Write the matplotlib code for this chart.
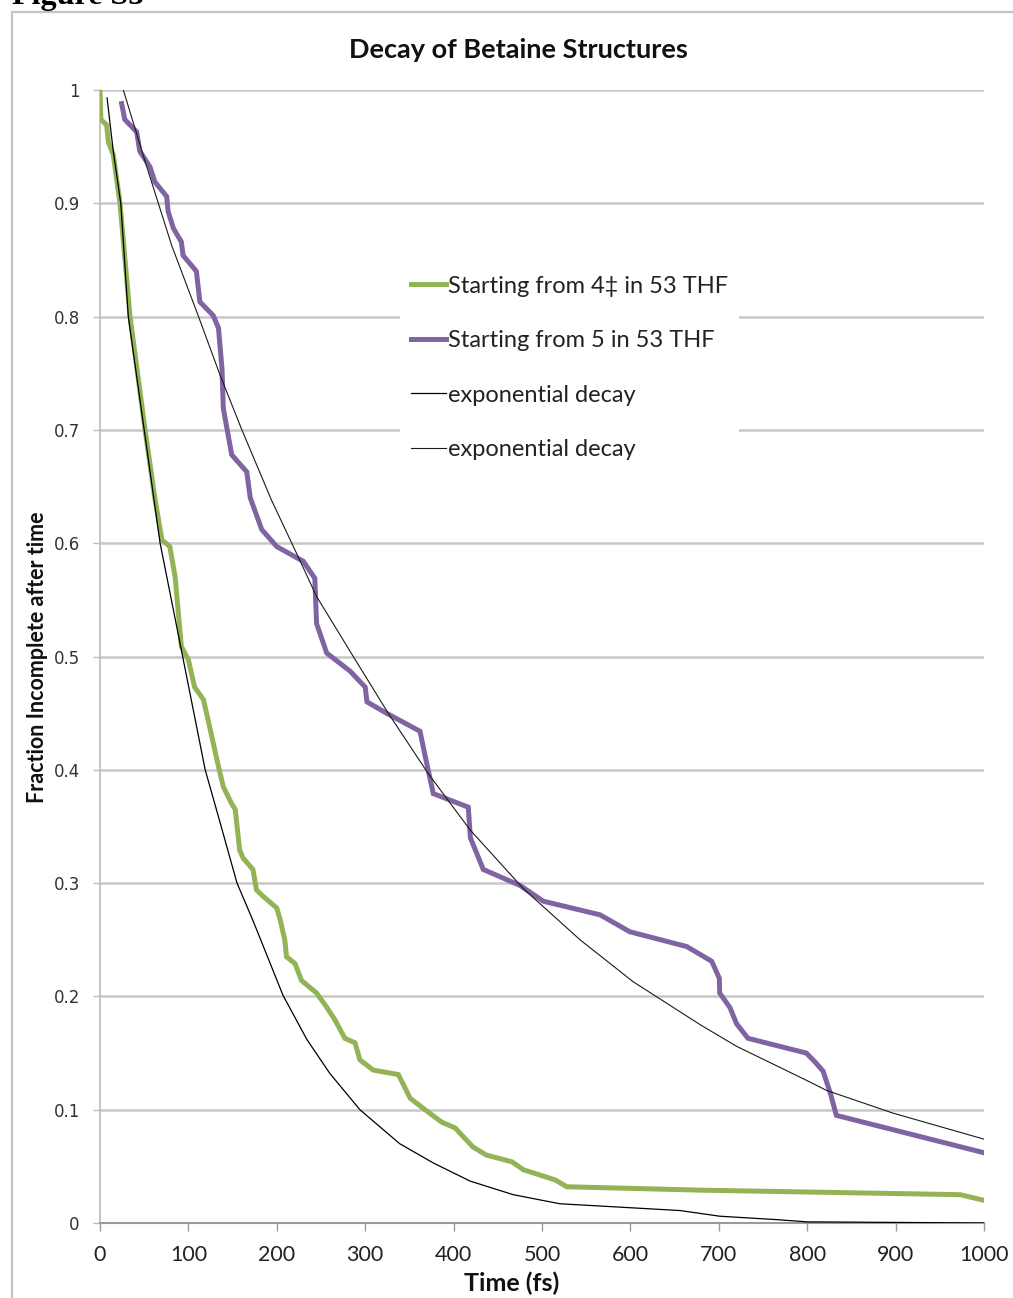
import matplotlib
matplotlib.use("Agg")
import matplotlib.pyplot as plt
from matplotlib.patches import Rectangle

# ==========================================
# DATA
# ==========================================

# Starting from 4‡ in 53 THF
green_t = [0, 1, 7.5, 9.5, 15, 22.6, 34, 51, 62, 70, 79, 85, 92, 100,
           107, 117, 124, 134, 139.5, 149, 153, 158, 162, 173, 177, 185,
           200, 204, 209, 211, 220.6, 228, 245, 256, 266, 277, 288.5,
           294, 309, 337.5, 351, 366, 386.5, 401.6, 422, 437, 466, 479,
           515, 528, 679, 973, 1000]
green_f = [1.0, 0.974, 0.969, 0.954, 0.943, 0.900, 0.800, 0.700, 0.640,
           0.603, 0.597, 0.570, 0.509, 0.497, 0.473, 0.462, 0.438, 0.403,
           0.385, 0.370, 0.365, 0.329, 0.322, 0.312, 0.294, 0.288, 0.278,
           0.267, 0.250, 0.235, 0.229, 0.214, 0.203, 0.191, 0.179, 0.163,
           0.159, 0.144, 0.135, 0.131, 0.110, 0.101, 0.089, 0.084, 0.067,
           0.060, 0.054, 0.047, 0.038, 0.032, 0.029, 0.025, 0.020]

# Starting from 5 in 53 THF
purple_t = [24.5, 28, 41.5, 45, 56.6, 62, 75.4, 77, 83, 92, 94, 109, 113,
            128, 134, 138, 139.5, 149, 166, 170, 183, 200, 230, 243, 245,
            256.5, 283, 300, 302, 324, 362, 367.6, 377, 416.6, 419, 433.6,
            475, 501.5, 565.6, 599.5, 663.7, 692, 700.6, 701, 712.7, 720,
            733, 799, 809, 818, 826, 833, 1000]
purple_f = [0.988, 0.974, 0.963, 0.946, 0.932, 0.919, 0.906, 0.893, 0.878,
            0.866, 0.854, 0.840, 0.813, 0.801, 0.790, 0.754, 0.719, 0.678,
            0.663, 0.640, 0.612, 0.597, 0.584, 0.569, 0.529, 0.503, 0.487,
            0.473, 0.460, 0.450, 0.434, 0.413, 0.379, 0.367, 0.340, 0.312,
            0.298, 0.284, 0.272, 0.257, 0.244, 0.231, 0.216, 0.203, 0.190,
            0.176, 0.163, 0.150, 0.142, 0.134, 0.115, 0.095, 0.062]

# exponential decay (fit to the 4‡ run)
fit1_t = [8, 15, 23.5, 32, 50, 68, 93.5, 119, 136, 155, 173, 207, 234,
          260, 294, 339, 377, 418.6, 467.5, 520, 656, 701, 765, 800, 1000]
fit1_f = [0.993, 0.946, 0.900, 0.800, 0.700, 0.600, 0.500, 0.400, 0.353,
          0.300, 0.267, 0.201, 0.162, 0.132, 0.100, 0.070, 0.053, 0.037,
          0.025, 0.017, 0.011, 0.006, 0.003, 0.001, 0.0]

# exponential decay (fit to the 5 run)
fit2_t = [26.4, 51, 81, 111, 136, 160, 194, 226, 245, 286.5, 326, 371,
          418.6, 479, 543, 603, 679, 720, 799, 822, 897, 1000]
fit2_f = [1.0, 0.937, 0.863, 0.801, 0.748, 0.701, 0.638, 0.585, 0.553,
          0.500, 0.450, 0.397, 0.347, 0.295, 0.250, 0.213, 0.175, 0.156,
          0.126, 0.117, 0.097, 0.074]

labels = [
    "Starting from 4\u2021 in 53 THF",
    "Starting from 5 in 53 THF",
    "exponential decay",
    "exponential decay",
]

x_ticks = [0, 100, 200, 300, 400, 500, 600, 700, 800, 900, 1000]
y_ticks = [0, 0.1, 0.2, 0.3, 0.4, 0.5, 0.6, 0.7, 0.8, 0.9, 1]

# ==========================================
# FIGURE
# ==========================================

W, H = 1013, 1298

plt.rcParams["font.family"] = ["Lato", "DejaVu Sans"]

fig = plt.figure(figsize=(W / 100, H / 100), dpi=100)

ax = fig.add_axes([
    100 / W,
    1 - 1223 / H,
    884 / W,
    1133 / H
])

ax.plot(green_t, green_f, color="#92B457", lw=3.6,
        solid_joinstyle="miter", label=labels[0], zorder=3)
ax.plot(purple_t, purple_f, color="#8064A2", lw=3.6,
        solid_joinstyle="miter", label=labels[1], zorder=3)
ax.plot(fit1_t, fit1_f, color="black", lw=0.9,
        label=labels[2], zorder=4)
ax.plot(fit2_t, fit2_f, color="#1a1a1a", lw=0.8,
        label=labels[3], zorder=4)

ax.set_xlim(0, 1000)
ax.set_ylim(0, 1)

ax.set_xticks(x_ticks)
ax.set_xticklabels([str(v) for v in x_ticks], fontsize=15.5,
                   color="#222222")
ax.set_yticks(y_ticks)
ax.set_yticklabels([f"{v:g}" for v in y_ticks], fontsize=12,
                   family="DejaVu Sans", color="#333333")

ax.tick_params(axis="x", direction="out", length=6, width=1,
               color="#999999", pad=10)
ax.tick_params(axis="y", direction="out", length=5, width=1,
               color="#bbbbbb", pad=9.5)

ax.yaxis.grid(True, color="#c8c8c8", lw=1.8)
ax.set_axisbelow(True)

for side in ["top", "right"]:
    ax.spines[side].set_visible(False)
ax.spines["left"].set_color("#bbbbbb")
ax.spines["left"].set_linewidth(1.2)
ax.spines["bottom"].set_color("#999999")
ax.spines["bottom"].set_linewidth(1.5)

leg = ax.legend(
    loc="upper left",
    bbox_to_anchor=(400 / W, 1 - 265 / H),
    bbox_transform=fig.transFigure,
    fontsize=17,
    handlelength=1.5,
    handletextpad=0.08,
    labelspacing=1.42,
    borderpad=0.45,
    borderaxespad=0,
    frameon=True,
    fancybox=False,
    framealpha=1,
    facecolor="white",
    edgecolor="none",
)
for txt in leg.get_texts():
    txt.set_color("#222222")

# titles and labels
fig.text(518 / W, 1 - 50 / H, "Decay of Betaine Structures",
         fontsize=19.5, fontweight="bold", ha="center", va="center",
         color="#111111")
fig.text(512 / W, 1 - 1283 / H, "Time (fs)",
         fontsize=18, fontweight="bold", ha="center", va="center",
         color="#111111")
fig.text(38 / W, 1 - 657 / H, "Fraction Incomplete after time",
         fontsize=15.5, fontweight="bold", ha="center", va="center",
         rotation=90, color="#111111")

# chart border and page caption
fig.add_artist(Rectangle(
    (12 / W, -0.05), 1.2, 1.05 - 12 / H,
    transform=fig.transFigure, fill=False,
    edgecolor="#c4c4c4", lw=1.6
))
fig.text(12 / W, 1 - 4 / H, "Figure S5",
         family="Liberation Serif", fontweight="bold", fontsize=23,
         va="baseline", ha="left")

fig.savefig("out.png", dpi=100)
plt.close(fig)
